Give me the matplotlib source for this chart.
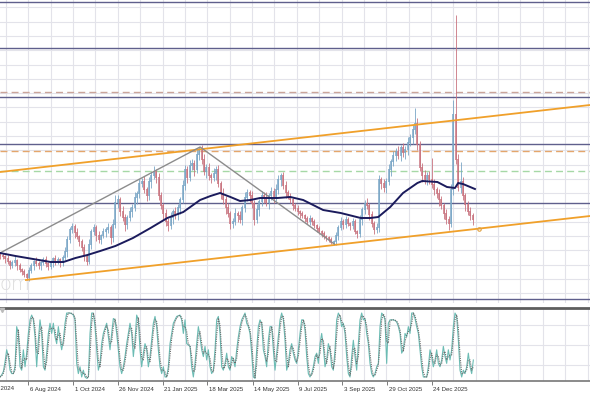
import matplotlib
matplotlib.use("Agg")
import matplotlib.pyplot as plt
import matplotlib.dates as mdates
from matplotlib.transforms import ScaledTranslation
import numpy as np
import pandas as pd
from datetime import datetime, timedelta

# ---------------- data ----------------
base = datetime(2024, 7, 1)
bar_start = datetime(2024, 7, 2)
bar_step_days = 3
first_open = 46
close = [
    44, 43, 41, 38, 34, 37, 39, 34, 30, 28,
    25, 22, 29, 34, 38, 36, 34, 37, 40, 36,
    33, 37, 41, 38, 40, 37, 42, 48, 60, 70,
    73, 67, 63, 58, 52, 44, 38, 55, 68, 72,
    64, 60, 64, 68, 70, 72, 62, 75, 97, 100,
    88, 82, 75, 82, 88, 92, 102, 106, 116, 118,
    110, 104, 118, 124, 128, 122, 104, 94, 86, 78,
    74, 82, 88, 85, 92, 100, 114, 130, 122, 134,
    136, 130, 145, 150, 140, 128, 132, 124, 122, 126,
    130, 116, 106, 100, 92, 86, 76, 78, 86, 84,
    80, 92, 102, 107, 104, 96, 80, 90, 98, 104,
    102, 97, 104, 108, 102, 110, 120, 124, 114, 107,
    103, 100, 94, 91, 88, 86, 84, 81, 78, 81,
    78, 74, 71, 68, 66, 63, 62, 60, 57, 58,
    64, 72, 78, 75, 80, 76, 74, 78, 68, 66,
    80, 90, 96, 94, 85, 76, 70, 72, 120, 116,
    112, 118, 130, 138, 144, 148, 144, 152, 147, 150,
    157, 162, 170, 176, 155, 132, 124, 120, 124, 120,
    115, 110, 106, 100, 94, 86, 80, 76, 110, 185,
    140, 112, 118, 104, 95, 88, 84, 80,
]
# estimated wick lengths above / below each body
wick_up = [
    2, 3, 2, 4, 2, 3, 5, 2, 3, 2,
    3, 2, 4, 3, 2, 5, 3, 2, 3, 4,
    2, 3, 2, 4, 3, 2, 3, 5, 4, 3,
    4, 3, 5, 2, 3, 4, 2, 6, 3, 4,
    3, 5, 2, 4, 3, 5, 3, 6, 4, 5,
    3, 6, 4, 3, 5, 4, 6, 3, 5, 4,
    6, 3, 5, 4, 6, 3, 5, 4, 3, 5,
    4, 6, 3, 5, 4, 3, 6, 5, 4, 6,
    5, 4, 6, 3, 5, 6, 4, 5, 3, 6,
    4, 5, 3, 6, 4, 5, 3, 4, 6, 3,
    5, 3, 6, 4, 3, 5, 4, 6, 3, 5,
    4, 6, 3, 5, 4, 6, 5, 3, 4, 5,
    3, 4, 2, 3, 4, 2, 3, 2, 3, 4,
    2, 3, 2, 3, 2, 3, 2, 2, 3, 2,
    4, 3, 5, 3, 4, 3, 2, 4, 3, 2,
    5, 3, 4, 6, 3, 4, 3, 5, 4, 3,
    5, 4, 6, 3, 5, 4, 6, 3, 5, 4,
    6, 4, 5, 3, 6, 4, 5, 6, 4, 5,
    4, 6, 3, 5, 4, 3, 5, 4, 6, 3,
    5, 6, 4, 5, 3, 4, 5, 3,
]
wick_dn = [
    3, 2, 4, 2, 3, 2, 3, 4, 2, 3,
    2, 4, 3, 2, 4, 2, 3, 4, 2, 3,
    3, 2, 4, 3, 2, 4, 3, 2, 5, 3,
    3, 5, 2, 4, 3, 5, 3, 2, 4, 3,
    5, 3, 4, 2, 5, 3, 6, 4, 3, 5,
    4, 3, 6, 4, 3, 5, 3, 6, 4, 3,
    3, 5, 4, 6, 3, 5, 4, 3, 6, 4,
    5, 3, 6, 4, 5, 6, 3, 4, 5, 3,
    4, 6, 3, 5, 4, 3, 6, 4, 5, 3,
    6, 3, 5, 4, 6, 3, 5, 4, 3, 6,
    3, 5, 4, 3, 6, 4, 5, 3, 6, 4,
    5, 3, 6, 4, 5, 3, 4, 6, 3, 5,
    2, 3, 4, 2, 3, 4, 2, 3, 2, 3,
    3, 2, 3, 2, 3, 2, 3, 2, 3, 2,
    3, 4, 2, 4, 3, 2, 4, 3, 2, 4,
    3, 5, 4, 3, 5, 3, 4, 3, 4, 5,
    4, 5, 3, 6, 4, 5, 3, 5, 4, 6,
    5, 3, 6, 4, 5, 3, 6, 4, 5, 4,
    3, 5, 4, 6, 3, 5, 4, 6, 3, 5,
    4, 3, 5, 4, 6, 3, 4, 5,
]
wick_high = {48: 105, 83: 153, 158: 125, 173: 192, 180: 142, 189: 200, 190: 285, 192: 138}
wick_low = {11: 20, 138: 56}

ma_day = [0.6, 20, 42, 64, 80, 95, 110, 126, 145, 167, 189, 210, 230, 251, 264, 276, 289,
          301, 314, 326, 348, 364, 380, 405, 427, 452, 464, 474, 489, 505, 523, 529, 548,
          560, 570, 574, 580, 589, 595]
ma_val = [47, 44, 41, 38, 38, 42, 45, 49, 54, 62, 72, 82, 88, 100, 104, 107, 103,
          99, 100, 102, 102, 103, 100, 90, 87, 82, 82, 83, 93, 107, 117, 119, 118,
          113, 112, 117, 116, 113, 111]

stoch_k = [
    3, 6, 11, 25, 43, 33, 13, 8, 8, 18,
    77, 67, 18, 13, 43, 18, 38, 67, 87, 94,
    87, 62, 18, 57, 87, 67, 18, 13, 38, 67,
    82, 67, 82, 62, 52, 77, 57, 43, 57, 82,
    97, 97, 97, 96, 94, 87, 23, 8, 18, 3,
    13, 3, 1, 3, 67, 97, 97, 77, 43, 13,
    23, 52, 67, 75, 82, 62, 43, 67, 89, 87,
    67, 43, 18, 8, 18, 33, 52, 67, 82, 67,
    33, 57, 94, 87, 43, 18, 38, 52, 43, 18,
    33, 57, 82, 92, 77, 43, 18, 8, 18, 3,
    3, 18, 52, 67, 82, 87, 92, 93, 94, 87,
    67, 87, 52, 50, 48, 18, 3, 23, 52, 77,
    62, 43, 33, 48, 28, 43, 18, 8, 13, 43,
    87, 92, 67, 18, 13, 23, 38, 18, 13, 33,
    28, 18, 43, 62, 77, 87, 92, 97, 82, 77,
    67, 38, 3, 1, 43, 77, 87, 82, 43, 33,
    18, 57, 77, 77, 43, 13, 38, 62, 87, 97,
    87, 57, 13, 23, 43, 52, 38, 28, 23, 43,
    67, 87, 87, 72, 33, 8, 3, 8, 18, 33,
    38, 23, 52, 67, 48, 18, 28, 52, 43, 18,
    13, 43, 87, 97, 92, 77, 82, 67, 33, 8,
    3, 33, 57, 33, 13, 52, 87, 97, 87, 89,
    67, 52, 23, 8, 3, 8, 18, 23, 77, 97,
    94, 87, 23, 82, 87, 87, 87, 86, 84, 77,
    67, 38, 43, 67, 62, 77, 67, 97, 97, 89,
    77, 67, 43, 18, 3, 3, 3, 18, 43, 33,
    18, 28, 43, 23, 18, 28, 48, 33, 23, 43,
    28, 43, 77, 97, 92, 57, 13, 3, 13, 8,
    18, 38, 18, 8, 28,
]
stoch_first_day = 0.6
stoch_last_day = 593

# horizontal levels (price units)
solid_levels = [298.3, 251.7, 203.3, 155.7, 96.7, 1.0]
dashed_levels = [(207.7, "#cba59a"), (149.0, "#e4a66c")]
green_level = 129.3

# trend lines: (day, price)
upper_channel = [(0.6, 128), (739, 195)]
lower_channel = [(33, 20), (739, 84)]
zigzag = [(0.6, 47), (251, 153), (419, 56)]
marker_point = (600, 71)

tick_dates = ["2024-08-06", "2024-10-01", "2024-11-26", "2025-01-21", "2025-03-18",
              "2025-05-14", "2025-07-09", "2025-09-03", "2025-10-29", "2025-12-24"]
tick_labels = ["6 Aug 2024", "1 Oct 2024", "26 Nov 2024", "21 Jan 2025", "18 Mar 2025",
               "14 May 2025", "9 Jul 2025", "3 Sep 2025", "29 Oct 2025", "24 Dec 2025"]
cut_label_date = "2024-06-11"
cut_label = "11 Jun 2024"

# ---------------- figure ----------------
W, H = 590, 393
fig = plt.figure(figsize=(W / 100, H / 100), dpi=100)
fig.patch.set_facecolor("white")

b0 = mdates.date2num(base)
def d(day):
    return b0 + day

ax = fig.add_axes([0, 1 - 303 / H, 1, 303 / H])
ax2 = fig.add_axes([0, 1 - 381 / H, 1, 73 / H], sharex=ax)
xmin, xmax = d(0.58), d(739.0)
ax.set_xlim(xmin, xmax)
ax.set_ylim(-3, 300)
ax2.set_ylim(-2.9, 104.4)

for a in (ax, ax2):
    a.set_facecolor("white")
    for s in a.spines.values():
        s.set_visible(False)
    a.set_yticks([])

grid_c = "#e3e3ea"
for g in np.arange(-20, 760, 28):
    for a in (ax, ax2):
        a.axvline(d(g), color=grid_c, lw=0.8, zorder=0)
for gy in np.arange(292.7, -3, -14.3):
    ax.axhline(gy, color=grid_c, lw=0.8, zorder=0)
for gy in (20, 50, 80):
    ax2.axhline(gy, color=grid_c, lw=0.8, zorder=0)

# levels
for lv in solid_levels:
    ax.axhline(lv, color="#5f5f8c", lw=1.0, zorder=2)
for lv, c in dashed_levels:
    ax.axhline(lv, color=c, lw=1.0, ls=(0, (5, 3)), zorder=2)
ax.axhline(green_level, color="#a6d8a6", lw=1.0, ls=(0, (5, 3)), zorder=2)

# watermark
ax.text(d(0.58) - 0.5, 6, "om", fontsize=14, color="#dcdcdc", ha="left", va="bottom",
        fontfamily="DejaVu Sans", fontweight="light", zorder=1)

# candles
xs = np.array([mdates.date2num(bar_start + timedelta(days=bar_step_days * i)) for i in range(len(close))])
opens = [first_open] + close[:-1]
up_c, dn_c = "#7aa6c6", "#c9737f"
for i, (x, o, c) in enumerate(zip(xs, opens, close)):
    col = up_c if c >= o else dn_c
    hi = wick_high.get(i, max(o, c) + wick_up[i])
    lo = wick_low.get(i, min(o, c) - wick_dn[i])
    ax.vlines(x, lo, hi, color=col, lw=0.6, zorder=3)
    ax.vlines(x, min(o, c), max(o, c) + 0.6, color=col, lw=1.1, zorder=3)

# trend lines
ax.plot([d(p[0]) for p in upper_channel], [p[1] for p in upper_channel], color="#f0a02a", lw=1.3, zorder=4)
ax.plot([d(p[0]) for p in lower_channel], [p[1] for p in lower_channel], color="#f0a02a", lw=1.3, zorder=4)
ax.plot([d(p[0]) for p in zigzag], [p[1] for p in zigzag], color="#8c8c8c", lw=1.0, zorder=4)
ax.plot(d(marker_point[0]), marker_point[1], "o", ms=2.5, mfc="none", mec="#e0a040", mew=0.8, zorder=5)

# moving average
ax.plot([d(v) for v in ma_day], ma_val, color="#1b1b5c", lw=1.4, zorder=5)

# oscillator
kx = np.linspace(d(stoch_first_day), d(stoch_last_day), len(stoch_k))
k = pd.Series(stoch_k, dtype=float)
dline = k.rolling(2, min_periods=1).mean()
ax2.plot(kx, k, color="#6cbcb4", lw=0.8, zorder=3)
ax2.plot(kx, dline, color="#6a6a6a", lw=0.8, ls=(0, (1, 1)), zorder=4)
ax2.spines["top"].set_visible(True)
ax2.spines["top"].set_color("#5e5e5e")
ax2.spines["top"].set_linewidth(2.0)
ax2.spines["bottom"].set_visible(True)
ax2.spines["bottom"].set_color("#777777")
ax2.spines["bottom"].set_linewidth(1.2)
ax2.plot(d(3.5), 101, marker="v", ms=3, color="#bbbbbb", zorder=5, clip_on=False)

# x ticks
ax.tick_params(axis="x", bottom=False, labelbottom=False)
tick_x = [mdates.date2num(datetime.strptime(t, "%Y-%m-%d")) for t in tick_dates]
ax2.set_xticks(tick_x)
ax2.set_xticklabels(tick_labels, ha="left", fontsize=4.4, color="#333333", fontfamily="Liberation Sans")
ax2.tick_params(axis="x", direction="out", length=3, width=0.6, color="#666666", pad=1.2)
off = ScaledTranslation(1.2 / 72, 0, fig.dpi_scale_trans)
for lab in ax2.get_xticklabels():
    lab.set_transform(lab.get_transform() + off)
ax2.annotate(cut_label, xy=(mdates.date2num(datetime.strptime(cut_label_date, "%Y-%m-%d")), 0),
             xycoords=("data", "axes fraction"), xytext=(-2.0, -(3 * 0.72 + 1.2)),
             textcoords="offset points", ha="left", va="top", fontsize=4.4, color="#333333",
             fontfamily="Liberation Sans", annotation_clip=False)
ax2.set_xlim(xmin, xmax)

fig.savefig("out.png", dpi=100)
